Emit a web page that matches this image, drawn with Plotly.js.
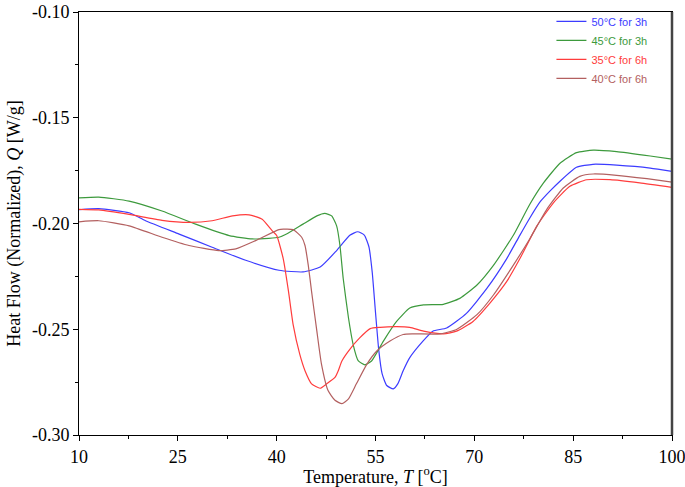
<!DOCTYPE html>
<html>
<head>
<meta charset="utf-8">
<script src="https://cdn.plot.ly/plotly-3.0.1.min.js"></script>
<style>html,body{margin:0;padding:0;background:#fff;}#chart{width:685px;height:487px;}</style>
</head>
<body>
<div id="chart"></div>
<script>
// Temperature (°C) and heat flow (W/g)
const blueT = [10,13.0,17.6,20.1,25.2,30.2,35.3,40.35,44.0,46.6,49.1,51.1,52.3,53.3,54.0,54.5,55.0,55.5,56.0,56.7,57.7,58.4,59.2,60.2,62.2,63.7,65.8,68.8,71.9,74.9,76.9,78.4,80.0,81.5,83.0,85.5,88.0,91.6,96.7,100];
const blueQ = [-0.1935,-0.1930,-0.1949,-0.1987,-0.2050,-0.2112,-0.2174,-0.2221,-0.2229,-0.2206,-0.2128,-0.2056,-0.2039,-0.2055,-0.2110,-0.2230,-0.2420,-0.2600,-0.2710,-0.2766,-0.2782,-0.2757,-0.2696,-0.2634,-0.2556,-0.2509,-0.2494,-0.2425,-0.2307,-0.2167,-0.2056,-0.1975,-0.1897,-0.1846,-0.1800,-0.1734,-0.1720,-0.1724,-0.1738,-0.1754];

const greenT = [10,13.0,17.6,22.6,27.7,32.8,36.3,38.8,40.35,41.5,44.0,46.1,47.3,48.35,49.1,49.6,50.1,50.9,51.6,52.4,53.4,54.4,56.2,58.2,60.2,62.3,65.3,67.8,70.4,72.9,75.9,78.4,80.5,83.0,85.5,88.05,91.6,96.7,100];
const greenQ = [-0.1879,-0.1875,-0.1894,-0.1941,-0.2003,-0.2057,-0.2073,-0.2070,-0.2065,-0.2050,-0.2003,-0.1964,-0.1952,-0.1964,-0.2011,-0.2103,-0.2260,-0.2447,-0.2571,-0.2650,-0.2668,-0.2650,-0.2556,-0.2463,-0.2400,-0.2385,-0.2382,-0.2354,-0.2291,-0.2198,-0.2057,-0.1910,-0.1808,-0.1715,-0.1665,-0.1653,-0.1660,-0.1681,-0.1696];

const redT = [10,13.0,17.6,22.6,26.7,30.2,33.3,35.8,37.8,39.3,40.0,41.0,41.8,42.5,43.5,44.3,45.3,46.6,47.6,48.85,49.35,49.9,51.1,52.6,54.2,55.7,58.2,60.2,62.3,65.3,67.3,69.8,72.4,74.9,76.9,79.5,82.0,84.5,87.05,90.6,95.1,100];
const redQ = [-0.1933,-0.1936,-0.1957,-0.1985,-0.1995,-0.1987,-0.1964,-0.1959,-0.1980,-0.2034,-0.2057,-0.2167,-0.2322,-0.2478,-0.2618,-0.2696,-0.2758,-0.2779,-0.2758,-0.2728,-0.2696,-0.2650,-0.2595,-0.2541,-0.2497,-0.2491,-0.2488,-0.2491,-0.2509,-0.2522,-0.2509,-0.2463,-0.2375,-0.2275,-0.2167,-0.2011,-0.1902,-0.1824,-0.1793,-0.1793,-0.1808,-0.1829];

const brownT = [10,13.0,17.6,22.6,26.7,31.2,33.8,36.8,40.35,41.0,42.5,43.8,44.3,44.8,45.3,46.1,46.8,47.8,48.85,49.9,50.9,52.1,53.7,55.2,57.2,59.2,60.7,64.8,67.3,70.4,72.9,75.9,78.4,81.0,83.5,86.0,88.05,91.6,96.2,100];
const brownQ = [-0.1992,-0.1987,-0.2011,-0.2065,-0.2104,-0.2128,-0.2120,-0.2081,-0.2029,-0.2027,-0.2029,-0.2065,-0.2104,-0.2198,-0.2322,-0.2509,-0.2665,-0.2790,-0.2836,-0.2852,-0.2829,-0.2758,-0.2665,-0.2603,-0.2556,-0.2525,-0.2522,-0.2522,-0.2501,-0.2431,-0.2338,-0.2198,-0.2073,-0.1933,-0.1832,-0.1777,-0.1766,-0.1772,-0.1788,-0.1804];

const seriesNames = ['50°C for 3h','45°C for 3h','35°C for 6h','40°C for 6h'];
const colors = ['#3c3cff','#3d9a3d','#ff3c3c','#b36060'];

const xTickVals = [10,25,40,55,70,85,100];
const xTickText = ['10','25','40','55','70','85','100'];
const yTickVals = [-0.30,-0.25,-0.20,-0.15,-0.10];
const yTickText = ['-0.30','-0.25','-0.20','-0.15','-0.10'];

const xs = [blueT, greenT, redT, brownT];
const ys = [blueQ, greenQ, redQ, brownQ];

const traces = xs.map((x, i) => ({
  x: x, y: ys[i], type: 'scatter', mode: 'lines',
  line: {color: colors[i], width: 1.2, shape: 'spline', smoothing: 0.5},
  name: '<span style="color:' + colors[i] + '">' + seriesNames[i] + '</span>'
}));

const serif = 'Liberation Serif, Times New Roman, serif';
const layout = {
  width: 685, height: 487,
  margin: {l: 79, r: 13, t: 7, b: 52},
  paper_bgcolor: '#fff', plot_bgcolor: '#fff',
  showlegend: true,
  legend: {x: 0.967, y: 1.012, xanchor: 'right', yanchor: 'top', bgcolor: 'rgba(0,0,0,0)',
           font: {family: 'Liberation Sans, Arial, sans-serif', size: 11}, itemwidth: 30,
           tracegroupgap: 0},
  xaxis: {
    range: [10, 100], tickmode: 'array', tickvals: xTickVals, ticktext: xTickText,
    ticklabeloverflow: 'allow',
    showgrid: false, zeroline: false,
    showline: true, linecolor: '#000', linewidth: 1, mirror: true,
    ticks: 'outside', ticklen: 5, tickcolor: '#000',
    minor: {dtick: 7.5, tick0: 10, ticks: 'outside', ticklen: 3, tickcolor: '#000'},
    tickfont: {family: serif, size: 18, color: '#000'},
    title: {text: 'Temperature, <i>T</i> [<sup>o</sup>C]', font: {family: serif, size: 18, color: '#000'}, standoff: 4}
  },
  yaxis: {
    range: [-0.30, -0.10], tickmode: 'array', tickvals: yTickVals, ticktext: yTickText,
    ticklabeloverflow: 'allow',
    showgrid: false, zeroline: false,
    showline: true, linecolor: '#000', linewidth: 1, mirror: true,
    ticks: 'outside', ticklen: 5, tickcolor: '#000',
    minor: {dtick: 0.025, tick0: -0.30, ticks: 'outside', ticklen: 3, tickcolor: '#000'},
    tickfont: {family: serif, size: 18, color: '#000'},
    title: {text: 'Heat Flow (Normalized), <i>Q</i> [W/g]', font: {family: serif, size: 18, color: '#000'}, standoff: 6}
  },
  shapes: [{type: 'line', xref: 'paper', yref: 'paper', x0: 1, x1: 1, y0: 0, y1: 1,
            line: {color: '#444', width: 2.5}}]
};

Plotly.newPlot('chart', traces, layout, {displayModeBar: false, staticPlot: true});
</script>
</body>
</html>
